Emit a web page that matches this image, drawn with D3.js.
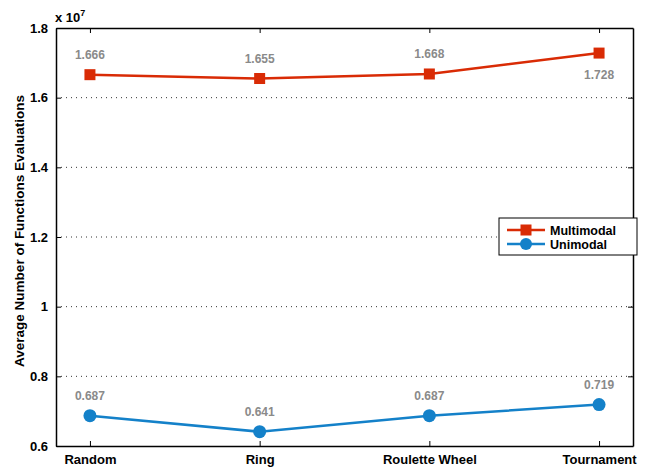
<!DOCTYPE html>
<html>
<head>
<meta charset="utf-8">
<script src="https://cdn.jsdelivr.net/npm/d3@7"></script>
<style>
  html, body { margin: 0; padding: 0; background: #fff; }
  svg { display: block; font-family: "Liberation Sans", Arial, Helvetica, sans-serif; }
</style>
</head>
<body>
<svg id="chart" width="646" height="467"></svg>
<script>
// Selection strategies on the x axis
const categories = ["Random", "Ring", "Roulette Wheel", "Tournament"];
// Average function evaluations, in units of 1e7
const multimodal = [1.666, 1.655, 1.668, 1.728];
const unimodal = [0.687, 0.641, 0.687, 0.719];
const yTicks = [0.6, 0.8, 1, 1.2, 1.4, 1.6, 1.8];
const yTickLabels = ["0.6", "0.8", "1", "1.2", "1.4", "1.6", "1.8"];

const svg = d3.select("#chart");
const L = 56, R = 633, T = 28, B = 446;

const x = d3.scaleLinear().domain([0.8, 4.2]).range([L, R]);
const y = d3.scaleLinear().domain([0.6, 1.8]).range([B, T]);

const red = "#D92B05", blue = "#1481C9", labelGrey = "#8a8a8a";

// Horizontal dotted grid
svg.append("g").selectAll("line").data(yTicks.slice(1, -1)).join("line")
  .attr("x1", L).attr("x2", R)
  .attr("y1", d => y(d)).attr("y2", d => y(d))
  .attr("stroke", "#333").attr("stroke-width", 1)
  .attr("stroke-dasharray", "1,4");

// Axes with inward ticks
const fmtY = (d, i) => yTickLabels[i];
const leftAxis = d3.axisLeft(y).tickValues(yTicks).tickFormat(fmtY).tickSizeInner(-5).tickSizeOuter(0).tickPadding(8);
const rightAxis = d3.axisRight(y).tickValues(yTicks).tickFormat("").tickSizeInner(-5).tickSizeOuter(0);
const bottomAxis = d3.axisBottom(x).tickValues([1, 2, 3, 4]).tickFormat((d, i) => categories[i]).tickSizeInner(-5).tickSizeOuter(0).tickPadding(9);
const topAxis = d3.axisTop(x).tickValues([1, 2, 3, 4]).tickFormat("").tickSizeInner(-5).tickSizeOuter(0);

function styleAxis(g) {
  g.select(".domain").attr("stroke", "#000").attr("stroke-width", 1.5);
  g.selectAll(".tick line").attr("stroke", "#000").attr("stroke-width", 1);
  g.selectAll(".tick text").attr("fill", "#000").attr("font-size", 13).attr("font-weight", "bold");
}
svg.append("g").attr("transform", `translate(${L},0)`).call(leftAxis).call(styleAxis);
svg.append("g").attr("transform", `translate(${R},0)`).call(rightAxis).call(styleAxis);
svg.append("g").attr("transform", `translate(0,${B})`).call(bottomAxis).call(styleAxis);
svg.append("g").attr("transform", `translate(0,${T})`).call(topAxis).call(styleAxis);

// Exponent marker
const expo = svg.append("text").attr("x", 55).attr("y", 22)
  .attr("font-size", 13).attr("font-weight", "bold").attr("fill", "#000");
expo.append("tspan").text("x 10");
expo.append("tspan").attr("dy", -6).attr("font-size", 9).text("7");

// Y axis title
svg.append("text")
  .attr("transform", `translate(24,231) rotate(-90)`)
  .attr("text-anchor", "middle")
  .attr("font-size", 13.5).attr("font-weight", "bold").attr("fill", "#000")
  .text("Average Number of Functions Evaluations");

const line = d3.line().x((d, i) => x(i + 1)).y(d => y(d));

// Multimodal series
svg.append("path").datum(multimodal).attr("d", line)
  .attr("fill", "none").attr("stroke", red).attr("stroke-width", 2.5);
svg.append("g").selectAll("rect").data(multimodal).join("rect")
  .attr("x", (d, i) => x(i + 1) - 5.5).attr("y", d => y(d) - 5.5)
  .attr("width", 11).attr("height", 11).attr("fill", red);
svg.append("g").selectAll("text").data(multimodal).join("text")
  .attr("x", (d, i) => x(i + 1))
  .attr("y", (d, i) => i === 3 ? y(d) + 26 : y(d) - 16)
  .attr("text-anchor", "middle").attr("font-size", 12).attr("font-weight", "bold")
  .attr("fill", labelGrey).text(d => d.toFixed(3));

// Unimodal series
svg.append("path").datum(unimodal).attr("d", line)
  .attr("fill", "none").attr("stroke", blue).attr("stroke-width", 2.5);
svg.append("g").selectAll("circle").data(unimodal).join("circle")
  .attr("cx", (d, i) => x(i + 1)).attr("cy", d => y(d))
  .attr("r", 6.5).attr("fill", blue);
svg.append("g").selectAll("text").data(unimodal).join("text")
  .attr("x", (d, i) => x(i + 1))
  .attr("y", d => y(d) - 16)
  .attr("text-anchor", "middle").attr("font-size", 12).attr("font-weight", "bold")
  .attr("fill", labelGrey).text(d => d.toFixed(3));

// Legend
const lg = svg.append("g").attr("transform", "translate(499,218)");
lg.append("rect").attr("width", 138).attr("height", 37)
  .attr("fill", "#fff").attr("stroke", "#000").attr("stroke-width", 1);
const entries = [
  { name: "Multimodal", color: red, shape: "square", yy: 12 },
  { name: "Unimodal", color: blue, shape: "circle", yy: 26 }
];
entries.forEach(e => {
  lg.append("line").attr("x1", 8).attr("x2", 46).attr("y1", e.yy).attr("y2", e.yy)
    .attr("stroke", e.color).attr("stroke-width", 2.5);
  if (e.shape === "square") {
    lg.append("rect").attr("x", 27 - 5.5).attr("y", e.yy - 5.5).attr("width", 11).attr("height", 11).attr("fill", e.color);
  } else {
    lg.append("circle").attr("cx", 27).attr("cy", e.yy).attr("r", 6).attr("fill", e.color);
  }
  lg.append("text").attr("x", 51).attr("y", e.yy + 4.5)
    .attr("font-size", 12.5).attr("font-weight", "bold").attr("fill", "#000").text(e.name);
});
</script>
</body>
</html>
